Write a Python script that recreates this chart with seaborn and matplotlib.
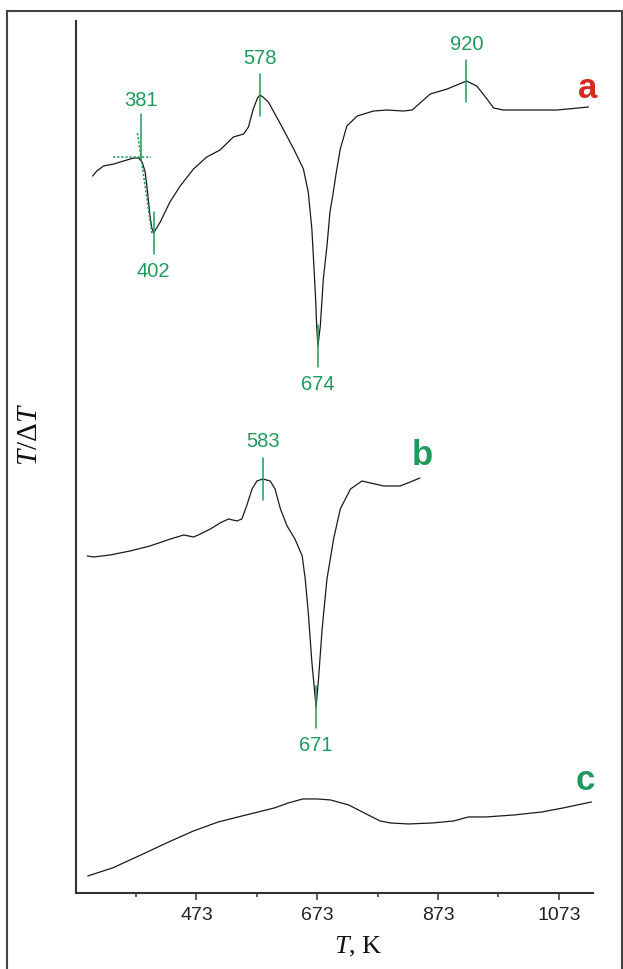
import numpy as np
import pandas as pd
import matplotlib
matplotlib.use("Agg")
import matplotlib.pyplot as plt
from matplotlib.lines import Line2D
import seaborn as sns

# DTA traces (temperature in K, T/dT signal in arbitrary units)
a_T = [301, 308, 319, 336, 352, 369, 377, 383, 388, 392, 396, 399, 402, 405, 413, 429, 446, 468, 490, 512,
       534, 551, 559, 567, 574, 578, 583, 592, 612, 634, 650, 658, 664, 667, 670, 672, 674, 678, 683, 689,
       694, 699, 704, 711, 722, 739, 766, 788, 816, 830, 860, 888, 920, 937, 954, 965, 981, 1026, 1070, 1122]
a_sig = [717, 722, 727, 729, 732, 735, 735, 731, 721, 701, 677, 665, 660, 663, 671, 691, 707, 724, 736, 743,
         756, 759, 766, 784, 795, 798, 796, 791, 769, 744, 724, 701, 664, 631, 597, 567, 547, 567, 614, 647,
         681, 699, 719, 744, 767, 777, 782, 783, 782, 783, 799, 804, 812, 807, 794, 785, 783, 783, 783, 786]

b_T = [292, 303, 330, 363, 396, 430, 452, 468, 476, 496, 512, 526, 540, 548, 556, 565, 573, 583, 595, 603,
       612, 623, 636, 648, 653, 658, 664, 671, 675, 681, 689, 700, 711, 728, 747, 761, 783, 810, 827, 843]
b_sig = [337, 336, 338, 342, 347, 354, 358, 356, 358, 364, 370, 374, 372, 374, 387, 404, 412, 414, 412, 404,
         384, 367, 354, 337, 314, 281, 231, 186, 214, 264, 314, 354, 384, 404, 412, 410, 407, 407, 411, 415]

c_T = [293, 334, 381, 427, 468, 509, 555, 602, 625, 649, 672, 695, 725, 754, 777, 794, 824, 864, 899, 923,
       952, 999, 1045, 1080, 1127]
c_sig = [17, 25, 38, 51, 62, 71, 78, 85, 90, 94, 94, 93, 88, 79, 72, 70, 69, 70, 72, 76,
         76, 78, 81, 85, 91]

# characteristic temperatures marked on the traces
a_peaks = [578, 920]
a_troughs = [402, 674]
a_onset = 381
b_peaks = [583]
b_troughs = [671]

x_major = [473, 673, 873, 1073]
x_minor = [373, 573, 773, 973]

GREEN = "#1f9a5c"
RED = "#d52a20"
INK = "#1a1a1a"

sns.set_theme(style="white")
plt.rcParams["font.family"] = ["Liberation Sans", "DejaVu Sans"]
plt.rcParams["mathtext.fontset"] = "custom"
plt.rcParams["mathtext.it"] = "Liberation Serif:italic"
plt.rcParams["mathtext.rm"] = "Liberation Serif"

df = pd.concat([
    pd.DataFrame({"T": a_T, "sig": a_sig, "curve": "a"}),
    pd.DataFrame({"T": b_T, "sig": b_sig, "curve": "b"}),
    pd.DataFrame({"T": c_T, "sig": c_sig, "curve": "c"}),
], ignore_index=True)

fig = plt.figure(figsize=(6.23, 9.70), dpi=100)
ax = fig.add_axes([0.1215, 0.0784, 0.8299, 0.8989])

sns.lineplot(data=df, x="T", y="sig", hue="curve", units="curve", estimator=None,
             sort=False, palette={"a": INK, "b": INK, "c": INK}, linewidth=0.9,
             legend=False, ax=ax)

ax.set_xlim(273, 1129)
ax.set_ylim(0, 872)
ax.set_xlabel("")
ax.set_ylabel("")
ax.set_yticks([])
ax.set_xticks(x_major)
ax.set_xticklabels([str(v) for v in x_major], fontsize=14, color="#222222")
ax.set_xticks(x_minor, minor=True)
ax.tick_params(axis="x", which="major", direction="out", length=5, width=1.1,
               color="#333333", pad=4.5, bottom=True)
ax.tick_params(axis="x", which="minor", direction="out", length=3, width=1.1,
               color="#333333", bottom=True)
for side in ("top", "right"):
    ax.spines[side].set_visible(False)
for side in ("left", "bottom"):
    ax.spines[side].set_color("#333333")
    ax.spines[side].set_linewidth(1.5)

HALF = 21   # half-length of the marker ticks
GAP = 17    # distance from marker end to its label


def mark(Ts, sigs, t, up):
    v = float(np.interp(t, Ts, sigs))
    ax.plot([t, t], [v - HALF, v + HALF], color=GREEN, lw=1.1, zorder=3)
    y = v + HALF + GAP if up else v - HALF - GAP
    ax.text(t, y, str(t), color=GREEN, fontsize=14.5, ha="center", va="center")


for t in a_peaks:
    mark(a_T, a_sig, t, True)
for t in a_troughs:
    mark(a_T, a_sig, t, False)
for t in b_peaks:
    mark(b_T, b_sig, t, True)
for t in b_troughs:
    mark(b_T, b_sig, t, False)

# onset construction on trace a: baseline and tangent to the descending flank
onset_level = 736
slope = -4.2
ax.plot([334, 397], [onset_level, onset_level], color=GREEN, lw=1.1, ls=(0, (1.5, 1.2)), zorder=3)
ax.plot([a_onset + (760 - onset_level) / slope, a_onset + (658 - onset_level) / slope],
        [760, 658], color=GREEN, lw=1.1, ls=(0, (1.5, 1.2)), zorder=3)
ax.plot([a_onset, a_onset], [onset_level - 2, onset_level + 43], color=GREEN, lw=1.1, zorder=3)
ax.text(a_onset, onset_level + 43 + 15, str(a_onset), color=GREEN, fontsize=14.5,
        ha="center", va="center")

# trace letters
ax.text(1120, 806, "a", color=RED, fontsize=25, fontweight="bold", ha="center", va="center")
ax.text(847, 438, "b", color=GREEN, fontsize=25, fontweight="bold", ha="center", va="center")
ax.text(1116, 113, "c", color=GREEN, fontsize=25, fontweight="bold", ha="center", va="center")

# axis titles
fig.text(30 / 623, 1 - 435 / 970, r"$T$/Δ$T$", rotation=90, ha="center", va="center",
         fontsize=21, family="Liberation Serif", color="#111111")
fig.text(358 / 623, 1 - 947 / 970, r"$T$, K", ha="center", va="center",
         fontsize=19, family="Liberation Serif", color="#111111")

# outer frame
frame_kw = dict(transform=fig.transFigure, color="#444444", lw=1.5)
fig.add_artist(Line2D([6.7 / 623, 621.5 / 623], [1 - 12.3 / 970] * 2, **frame_kw))
fig.add_artist(Line2D([6.7 / 623] * 2, [0.0, 1 - 12.3 / 970], **frame_kw))
fig.add_artist(Line2D([621.5 / 623] * 2, [0.0, 1 - 12.3 / 970], **frame_kw))

fig.savefig("out.png", dpi=100)
